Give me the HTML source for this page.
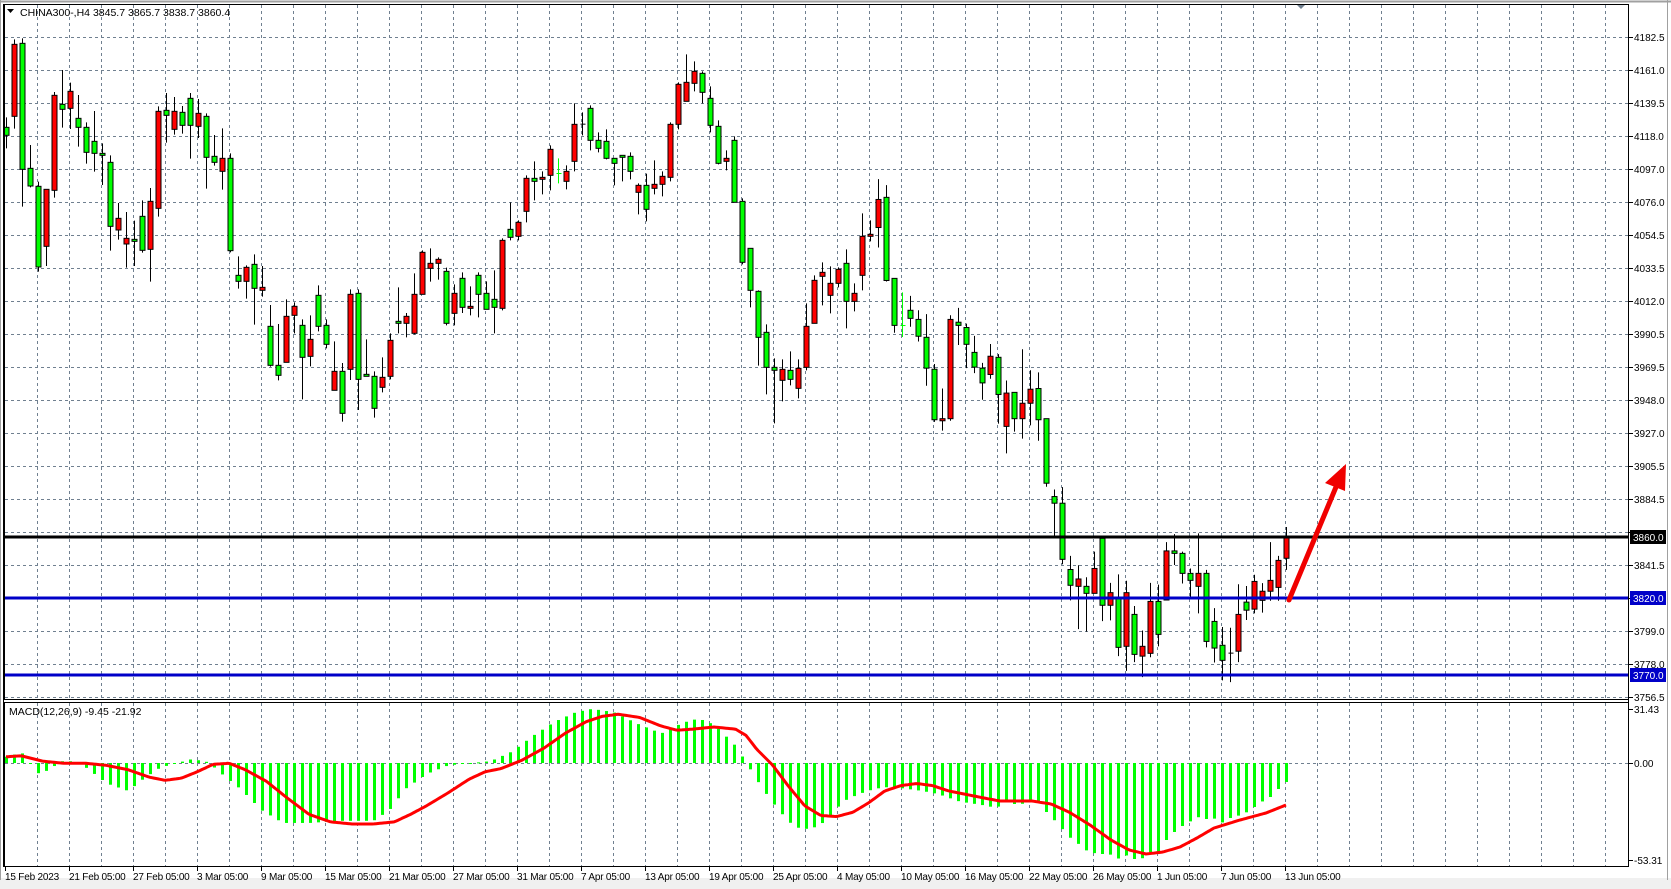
<!DOCTYPE html>
<html><head><meta charset="utf-8">
<style>
html,body{margin:0;padding:0;background:#fff;}
svg{display:block;}
text{font-family:"Liberation Sans",sans-serif;font-size:10px;fill:#000;}
.d{letter-spacing:-0.2px;}
</style></head>
<body>
<svg id="s" width="1671" height="889" xmlns="http://www.w3.org/2000/svg">
<rect x="0" y="0" width="1671" height="889" fill="#fff"/>
<rect x="0" y="878" width="1671" height="11" fill="#f0f0f0"/>
<line x1="0.5" y1="0" x2="0.5" y2="880" stroke="#a0a0a0" stroke-width="1"/>
<line x1="0" y1="1.5" x2="1671" y2="1.5" stroke="#a0a0a0" stroke-width="2"/>
<line x1="1667.5" y1="0" x2="1667.5" y2="880" stroke="#a0a0a0" stroke-width="1"/>
<g id="grid"></g>
<g id="macd"></g>
<g id="candles"></g>
<line x1="4" y1="537" x2="1629" y2="537" stroke="#000" stroke-width="3"/>
<line x1="4" y1="598" x2="1629" y2="598" stroke="#0000c8" stroke-width="3"/>
<line x1="4" y1="675" x2="1629" y2="675" stroke="#0000c8" stroke-width="3"/>
<line x1="1289" y1="600" x2="1336" y2="487" stroke="#f00000" stroke-width="5" stroke-linecap="round"/>
<polygon points="1346,464 1325,483 1345,491" fill="#f00000"/>
<rect x="4.5" y="4.5" width="1624" height="695" fill="none" stroke="#000" stroke-width="1"/>
<rect x="4.5" y="702.5" width="1624" height="164" fill="none" stroke="#000" stroke-width="1"/>
<line x1="3.5" y1="4" x2="3.5" y2="867" stroke="#000" stroke-width="1"/>
<polygon points="1297,5 1305,5 1301,9" fill="#708090"/>
<polygon points="7,9 14,9 10.5,13" fill="#000"/>
<text x="20" y="16" style="font-size:10.5px">CHINA300-,H4  3845.7 3865.7 3838.7 3860.4</text>
<text x="9" y="715" style="font-size:10.5px">MACD(12,26,9) -9.45 -21.92</text>
<g id="ticks"></g>
<g>
<text x="1634" y="41">4182.5</text>
<text x="1634" y="74">4161.0</text>
<text x="1634" y="107">4139.5</text>
<text x="1634" y="140">4118.0</text>
<text x="1634" y="173">4097.0</text>
<text x="1634" y="206">4076.0</text>
<text x="1634" y="239">4054.5</text>
<text x="1634" y="272">4033.5</text>
<text x="1634" y="305">4012.0</text>
<text x="1634" y="338">3990.5</text>
<text x="1634" y="371">3969.5</text>
<text x="1634" y="404">3948.0</text>
<text x="1634" y="437">3927.0</text>
<text x="1634" y="470">3905.5</text>
<text x="1634" y="503">3884.5</text>
<text x="1634" y="569">3841.5</text>
<text x="1634" y="635">3799.0</text>
<text x="1634" y="668">3778.0</text>
<text x="1634" y="701">3756.5</text>
</g>
<rect x="1630" y="530" width="36" height="14" fill="#000"/>
<text x="1633" y="541" style="fill:#fff">3860.0</text>
<rect x="1630" y="591" width="36" height="14" fill="#0000c8"/>
<text x="1633" y="602" style="fill:#fff">3820.0</text>
<rect x="1630" y="668" width="36" height="14" fill="#0000c8"/>
<text x="1633" y="679" style="fill:#fff">3770.0</text>
<text x="1634" y="713">31.43</text>
<text x="1634" y="767">0.00</text>
<text x="1634" y="864">-53.31</text>
<g class="d">
<text x="5" y="880">15 Feb 2023</text>
<text x="69" y="880">21 Feb 05:00</text>
<text x="133" y="880">27 Feb 05:00</text>
<text x="197" y="880">3 Mar 05:00</text>
<text x="261" y="880">9 Mar 05:00</text>
<text x="325" y="880">15 Mar 05:00</text>
<text x="389" y="880">21 Mar 05:00</text>
<text x="453" y="880">27 Mar 05:00</text>
<text x="517" y="880">31 Mar 05:00</text>
<text x="581" y="880">7 Apr 05:00</text>
<text x="645" y="880">13 Apr 05:00</text>
<text x="709" y="880">19 Apr 05:00</text>
<text x="773" y="880">25 Apr 05:00</text>
<text x="837" y="880">4 May 05:00</text>
<text x="901" y="880">10 May 05:00</text>
<text x="965" y="880">16 May 05:00</text>
<text x="1029" y="880">22 May 05:00</text>
<text x="1093" y="880">26 May 05:00</text>
<text x="1157" y="880">1 Jun 05:00</text>
<text x="1221" y="880">7 Jun 05:00</text>
<text x="1285" y="880">13 Jun 05:00</text>
</g>
</svg>
<script>
(function(){
var NS="http://www.w3.org/2000/svg";
function el(p,t,a){var e=document.createElementNS(NS,t);for(var k in a)e.setAttribute(k,a[k]);p.appendChild(e);return e;}
var g=document.getElementById('grid'),tk=document.getElementById('ticks');
for(var x=37;x<1628;x+=32){
 el(g,'line',{x1:x+.5,y1:5,x2:x+.5,y2:699,stroke:'#708090','stroke-dasharray':'3,3'});
 el(g,'line',{x1:x+.5,y1:703,x2:x+.5,y2:866,stroke:'#708090','stroke-dasharray':'3,3'});
}
for(var k=0;k<=20;k++){var y=37+33*k;
 el(g,'line',{x1:5,y1:y+.5,x2:1628,y2:y+.5,stroke:'#708090','stroke-dasharray':'3,3'});
 el(tk,'line',{x1:1629,y1:y+.5,x2:1633,y2:y+.5,stroke:'#000'});}
el(g,'line',{x1:5,y1:763.5,x2:1628,y2:763.5,stroke:'#708090','stroke-dasharray':'3,3'});
[709,763,860].forEach(function(y){el(tk,'line',{x1:1629,y1:y+.5,x2:1633,y2:y+.5,stroke:'#000'});});
for(var i=0;i<21;i++){var xx=5+64*i;el(tk,'line',{x1:xx+.5,y1:866,x2:xx+.5,y2:871,stroke:'#000'});}
el(tk,'line',{x1:1628.5,y1:4,x2:1628.5,y2:867,stroke:'#000'});

var A="G,292,316,262,355;R,43,259,28,296;G,40,418,25,530;G,415,468,345,472;G,469,711,455,725;R,478,649,478,708;R,196,481,186,503;G,223,238,120,293;R,184,235,158,297;G,265,292,195,350;G,292,367,277,401;G,334,370,243,425;G,370,376,340,465;G,397,589,376,662;R,565,600,519,629;R,625,642,546,713;G,628,634,572,708;G,559,661,511,668;R,514,658,474,755;R,244,535,229,560;G,241,256,189,338;R,244,298,201,314;G,247,286,228,311;G,205,286,189,386;R,250,289,207,324;G,259,382,250,476;G,379,397,315,407;R,385,424,295,479;G,385,662,370,667;G,736,754,679,776;R,712,754,706,806;G,703,775,673,884;R,772,781,708,800;G,889,1006,825,1010;G,1006,1036,882,1051;R,859,997,808,997;R,829,856,817,910;G,886,982,868,1108;R,928,979,856,1009;G,796,889,766,904;G,886,943,868,955;R,1024,1081,934,1081;G,1024,1150,999,1175;R,793,1018,778,1050;G,790,1048,778,1140;G,1033,1039,928,1039;G,1039,1135,1024,1163;R,1042,1072,982,1087;R,931,1039,910,1048;G,874,880,772,910;R,859,880,849,922;R,793,910,730,913;R,667,793,661,793;R,700,715,655,755;R,688,700,682,749";
var B="G,724,880,713,886;R,790,850,763,886;G,745,832,727,849;R,829,835,769,856;G,736,793,727,862;G,790,838,754,838;G,808,832,721,910;R,631,835,625,841;G,598,622,517,631;R,577,619,571,631;R,445,544,436,577;G,445,454,394,511;R,442,448,424,493;R,358,436,346,481;g,429,431,385,460;R,424,454,406,478;R,283,394,220,424;K,281,283,247,316;G,235,331,226,361;G,331,355,307,367;G,334,385,298,388;G,385,400,385,466;G,376,382,376,454;G,379,424,367,448;R,466,487,460,553;G,466,538,431,574;R,463,475,391,493;R,439,463,424,499;R,283,442,277,454;R,163,283,157,298;R,157,214,73,214;R,124,160,94,184;G,130,187,124,220;G,205,286,169,307;G,289,400,271,403;R,385,394,361,421;G,331,517,319,517;G,514,697,505,703;G,655,781,655,832;G,784,922,781,1007;G,907,1012,883,1093;G,1012,1021,985,1180;R,1018,1051,988,1114;G,1021,1048,964,1066;R,1015,1075,988,1105;R,889,1012,820,1021;R,751,880,736,880;R,727,739,697,826;R,760,796,709,850;R,718,760,712,772;G,700,814,658,895;R,790,814,760,844;R,619,736,550,781;R,613,619,571,634";
var C="R,141,221,83,278;G,135,372,100,375;G,366,500,366,521;g,499,501,406,533;G,457,480,416,504;G,483,531,457,546;G,534,622,468,672;G,625,769,610,775;R,766,772,680,800;R,483,766,471,772;G,491,500,450,556;G,506,554,495,622;G,577,619,530,636;G,622,664,607,712;R,588,640,553,652;G,591,697,582,780;R,693,788,657,865;G,691,766,691,803;R,722,766,568,823;R,682,722,628,785;G,680,769,634,829;G,766,950,766,960;G,988,1007,968,1107;G,1007,1167,961,1181;G,1196,1241,1157,1284;R,1223,1244,1184,1366;G,1244,1264,1218,1373;R,1193,1264,1145,1264;G,1107,1298,1107,1343;R,1262,1298,1234,1341;G,1278,1418,1210,1443;R,1262,1415,1228,1485;G,1324,1438,1300,1460;R,1415,1443,1370,1503;R,1287,1435,1234,1446;G,1287,1381,1239,1415;R,1143,1283,1118,1283;G,1143,1150,1095,1183;G,1150,1207,1145,1236;G,1207,1227,1193,1276;R,1207,1244,1093,1321;G,1207,1401,1197,1418;G,1344,1420,1306,1461;G,1412,1455,1360,1512;K,1433,1435,1362,1517;R,1324,1429,1238,1460;G,1289,1312,1243,1340;R,1230,1309,1211,1321;R,1258,1284,1235,1319;R,1227,1258,1118,1285;R,1170,1247,1157,1285;R,1101,1164,1075,1197";
var cg=document.getElementById('candles'),idx=0;
function draw(str,y0,s){str.split(';').forEach(function(c){var p=c.split(','),col=p[0];
 var bt=y0+(+p[1])/s,bb=y0+(+p[2])/s,wt=y0+(+p[3])/s,wb=y0+(+p[4])/s;var cx=6+8*idx+.5;idx++;
 if(col=='g'){el(cg,'line',{x1:cx,y1:wt,x2:cx,y2:wb,stroke:'#00ff00'});el(cg,'line',{x1:cx-2,y1:bt+.5,x2:cx+3,y2:bt+.5,stroke:'#00ff00'});return;}
 el(cg,'line',{x1:cx,y1:wt,x2:cx,y2:wb,stroke:'#000'});
 if(col=='K'){el(cg,'line',{x1:cx-2,y1:bt+.5,x2:cx+3,y2:bt+.5,stroke:'#000'});return;}
 var h=Math.max(bb-bt,1.5);
 el(cg,'rect',{x:cx-2.5,y:bt,width:5,height:h,fill:col=='R'?'#ff0000':'#00ff00',stroke:'#000','stroke-width':1});
});}
draw(A,30,3);draw(B,30,3);draw(C,150,2.851);

var f=1.066;
var H1=[[5,710],[20,706],[37,727],[45,722],[60,713],[75,716],[100,735],[120,742],[135,730],[150,720],[165,716],[180,712],[195,715],[210,728],[225,740],[245,760],[265,772],[290,772],[320,770],[350,770],[365,760],[380,740],[400,726],[420,718],[440,716],[460,714],[480,705],[500,690],[520,677],[540,668],[555,665],[575,668],[600,680],[620,688],[640,678],[655,674],[670,680],[690,700],[700,716],[715,740],[730,760],[745,776],[760,778],[775,770],[790,752],[805,745],[820,740],[835,738],[850,740],[865,742],[880,745],[900,752],[920,755],[935,758]];
var H2=[[1004,800],[1013,804],[1021,804],[1030,802],[1038,803],[1045,811],[1052,818],[1061,828],[1069,837],[1077,843],[1085,850],[1093,853],[1101,854],[1109,854],[1117,859],[1125,855],[1134,859],[1141,859],[1150,852],[1158,852],[1165,841],[1174,832],[1182,826],[1189,822],[1197,817],[1206,819],[1213,818],[1221,823],[1230,818],[1237,816],[1245,813],[1254,807],[1261,802],[1270,797],[1278,789],[1286,782]];
var S1=[[5,710],[20,709],[40,714],[60,716],[80,716],[100,718],[120,722],[140,729],[155,732],[170,730],[185,724],[200,717],[215,716],[230,722],[250,733],[270,749],[290,764],[310,771],[330,773],[350,773],[370,771],[385,764],[400,756],[420,744],[440,731],[455,724],[470,721],[490,713],[510,702],[530,688],[550,677],[565,672],[580,670],[600,673],[620,681],[635,685],[650,684],[670,682],[690,684],[700,690],[710,703],[725,718],[740,738],[755,756],[770,765],[785,766],[800,762],[815,753],[830,742],[845,737],[860,735],[875,737],[890,742],[905,745],[925,749]];
var S2=[[1000,801],[1032,801],[1051,804],[1069,812],[1090,825],[1111,840],[1129,850],[1146,854],[1163,852],[1180,847],[1197,838],[1214,828],[1240,820],[1266,813],[1286,805]];
function sc(a){return a.map(function(p){return [p[0]*f,p[1]*f];});}
var H=sc(H1).concat(H2),S=sc(S1).concat(S2);
function interp(a,x){if(x<=a[0][0])return a[0][1];for(var i=1;i<a.length;i++){if(x<=a[i][0]){var t=(x-a[i-1][0])/(a[i][0]-a[i-1][0]);return a[i-1][1]+t*(a[i][1]-a[i-1][1]);}}return a[a.length-1][1];}
var mg=document.getElementById('macd');
for(var i=0;i<161;i++){var cx=6+8*i;var y=interp(H,cx);var t=Math.min(y,763),b=Math.max(y,763);
 el(mg,'rect',{x:cx-1,y:t,width:3,height:Math.max(b-t,1),fill:'#00ff00'});}
var pts=[];for(var x=6;x<=1286;x+=2){pts.push(x+','+interp(S,x).toFixed(1));}
el(mg,'polyline',{points:pts.join(' '),fill:'none',stroke:'#ff0000','stroke-width':3,'stroke-linejoin':'round'});
})();
</script>
</body></html>
